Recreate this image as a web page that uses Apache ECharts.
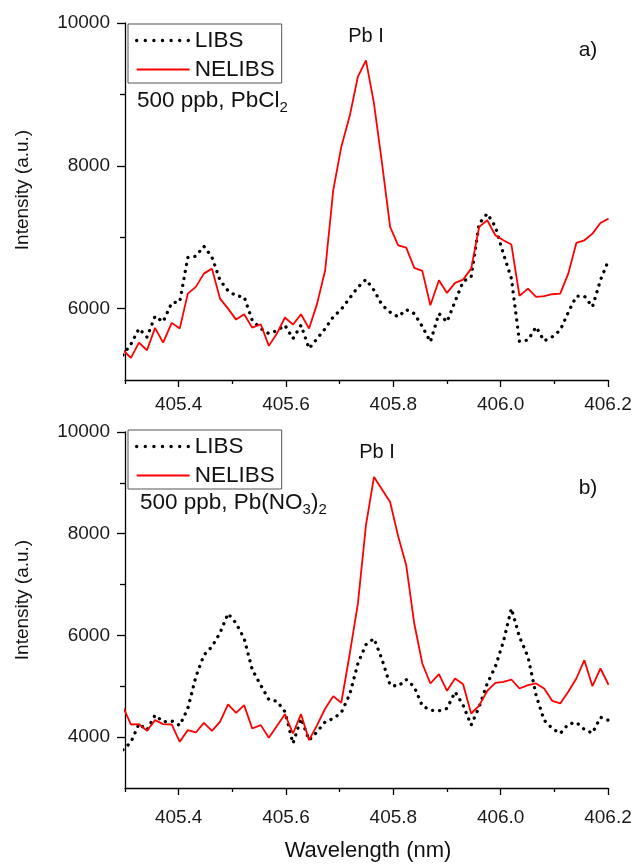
<!DOCTYPE html>
<html>
<head>
<meta charset="utf-8">
<script src="https://cdn.jsdelivr.net/npm/echarts@6/dist/echarts.min.js"></script>
<style>
html,body{margin:0;padding:0;background:#fff;}
#chart{width:635px;height:864px;}
</style>
</head>
<body>
<div id="chart"></div>
<script>
// Wavelength (nm) of each sample
const wavelength = [405.296,405.311,405.326,405.341,405.356,405.371,405.387,405.402,405.417,405.432,
405.447,405.462,405.477,405.492,405.507,405.522,405.537,405.553,405.568,405.583,
405.598,405.613,405.628,405.643,405.658,405.673,405.688,405.703,405.719,405.734,
405.749,405.764,405.779,405.794,405.809,405.824,405.839,405.854,405.869,405.885,
405.900,405.915,405.930,405.945,405.960,405.975,405.990,406.005,406.020,406.035,
406.051,406.066,406.081,406.096,406.111,406.126,406.141,406.156,406.171,406.186,406.201];

// Panel a) 500 ppb, PbCl2
const libsA = [5350,5500,5720,5600,5893,5814,6080,6094,6715,6734,
6873,6720,6397,6250,6180,6164,5837,5720,5650,5690,
5767,5580,5767,5440,5580,5720,5884,5990,6150,6300,
6407,6257,6050,5950,5884,5986,5930,5750,5534,5930,
5814,6100,6380,6444,7190,7330,7150,6770,6420,5540,
5560,5744,5548,5604,5697,5950,6174,6174,6024,6400,6677];
const nelibsA = [5420,5310,5524,5417,5730,5524,5800,5720,6210,6304,
6490,6560,6140,6000,5846,5921,5734,5781,5478,5650,
5875,5776,5921,5720,6070,6537,7657,8264,8707,9250,
9477,8870,8031,7144,6887,6855,6570,6528,6047,6397,
6220,6360,6406,6560,7144,7237,7027,6957,6897,6178,
6280,6164,6174,6201,6210,6490,6920,6957,7050,7200,7260];

// Panel b) 500 ppb, Pb(NO3)2
const libsB = [3750,3900,4260,4138,4433,4300,4320,4230,4563,5186,
5612,5780,6050,6430,6240,5939,5330,5020,4740,4707,
4500,3876,4367,3941,4105,4300,4367,4480,4850,5450,
5820,5939,5526,5022,5002,5133,4989,4616,4531,4518,
4563,4891,4629,4236,4596,5055,5382,5874,6530,5972,
5579,4825,4334,4170,4072,4256,4290,4150,4080,4390,4330];
const nelibsB = [4600,4249,4256,4125,4334,4256,4249,3908,4138,4092,
4282,4125,4302,4642,4478,4629,4170,4236,3987,4217,
4452,4072,4452,3941,4236,4563,4806,4676,5650,6629,
8167,9116,8870,8625,7950,7380,6234,5448,5055,5238,
4911,5153,5042,4465,4620,4911,5068,5087,5133,4956,
5022,5055,4956,4714,4662,4891,5153,5513,5002,5350,5030];

// Tick labels
const xMajor = [405.4,405.6,405.8,406.0,406.2];
const xMinor = [405.3,405.5,405.7,405.9,406.1];
const yMajorA = [6000,8000,10000];
const yMinorA = [7000,9000];
const yMajorB = [4000,6000,8000,10000];
const yMinorB = [5000,7000,9000];

const FONT = 'Liberation Sans, Arial, sans-serif';
const chart = echarts.init(document.getElementById('chart'), null, {renderer:'canvas'});

function pairs(vals){ return wavelength.map((w,i)=>[w, vals[i]]); }

const axisLine = {show:true, onZero:false, lineStyle:{color:'#000', width:1.3}};

function xMain(g, margin){
  return {type:'value', gridIndex:g, position:'bottom', min:405.3, max:406.2,
    axisLine:axisLine, splitLine:{show:false},
    axisTick:{show:true, length:7, customValues:xMajor, lineStyle:{color:'#000', width:1.3}},
    axisLabel:{show:true, customValues:xMajor, margin:margin, fontSize:19, color:'#1a1a1a', fontFamily:FONT,
      formatter:v=>Number(v).toFixed(1)}};
}
function xMin(g){
  return {type:'value', gridIndex:g, position:'bottom', min:405.3, max:406.2,
    axisLine:{show:false}, splitLine:{show:false}, axisLabel:{show:false},
    axisTick:{show:true, length:4, customValues:xMinor, lineStyle:{color:'#000', width:1.3}}};
}
function yMain(g, mn, major){
  return {type:'value', gridIndex:g, position:'left', min:mn, max:10000,
    axisLine:axisLine, splitLine:{show:false},
    axisTick:{show:true, length:8, customValues:major, lineStyle:{color:'#000', width:1.3}},
    axisLabel:{show:true, customValues:major, margin:15, fontSize:19, color:'#1a1a1a', fontFamily:FONT,
      formatter:v=>String(Math.round(v))}};
}
function yMin(g, mn, minor){
  return {type:'value', gridIndex:g, position:'left', min:mn, max:10000,
    axisLine:{show:false}, splitLine:{show:false}, axisLabel:{show:false},
    axisTick:{show:true, length:5, customValues:minor, lineStyle:{color:'#000', width:1.3}}};
}

const libsStyle = {color:'#000', width:3.3, type:[0.1,7], cap:'round'};
const nelStyle = {color:'#ff0000', width:1.8};

function legendAt(top){
  return {orient:'vertical', left:128, top:top,
    data:[{name:'LIBS', lineStyle:{color:'#000', width:3.3, type:[0.1,8.5], cap:'round'}}, {name:'NELIBS'}],
    borderColor:'#555', borderWidth:1, padding:[5,7,2,7], itemGap:6,
    itemWidth:53, itemHeight:14, itemStyle:{opacity:0},
    textStyle:{fontSize:22.5, color:'#111', fontFamily:FONT, lineHeight:22}};
}

function txt(x, y, text, size, extra, align){
  return Object.assign({type:'text', x:x, y:y, silent:true,
    style:{text:text, fill:'#111', fontSize:size, fontFamily:FONT,
      align:align||'center', verticalAlign:'middle'}}, extra||{});
}

// text with subscripts: parts = [[text, isSub], ...]
const measureCtx = document.createElement('canvas').getContext('2d');
function subText(x, y, parts, size, subSize){
  const out = [];
  let cx = x;
  parts.forEach(p=>{
    const s = p[1] ? subSize : size;
    measureCtx.font = s + 'px ' + FONT;
    out.push(txt(cx, p[1] ? y + 7 : y, p[0], s, null, 'left'));
    cx += measureCtx.measureText(p[0]).width;
  });
  return out;
}

chart.setOption({
  animation:false,
  backgroundColor:'#fff',
  grid:[
    {left:125, top:23, width:483, height:357},
    {left:125, top:432, width:483, height:356}
  ],
  xAxis:[xMain(0,15), xMin(0), xMain(1,20), xMin(1)],
  yAxis:[yMain(0,5000,yMajorA), yMin(0,5000,yMinorA), yMain(1,3000,yMajorB), yMin(1,3000,yMinorB)],
  legend:[legendAt(24), legendAt(430)],
  series:[
    {name:'LIBS', type:'line', xAxisIndex:0, yAxisIndex:0, data:pairs(libsA), showSymbol:false, symbol:'none', lineStyle:libsStyle, itemStyle:{color:'#000'}},
    {name:'NELIBS', type:'line', xAxisIndex:0, yAxisIndex:0, data:pairs(nelibsA), showSymbol:false, symbol:'none', lineStyle:nelStyle, itemStyle:{color:'#ff0000'}},
    {name:'LIBS', type:'line', xAxisIndex:2, yAxisIndex:2, data:pairs(libsB), showSymbol:false, symbol:'none', lineStyle:libsStyle, itemStyle:{color:'#000'}},
    {name:'NELIBS', type:'line', xAxisIndex:2, yAxisIndex:2, data:pairs(nelibsB), showSymbol:false, symbol:'none', lineStyle:nelStyle, itemStyle:{color:'#ff0000'}}
  ],
  graphic:[
    txt(366, 36, 'Pb I', 20),
    txt(377, 452, 'Pb I', 20),
    txt(588, 50, 'a)', 21),
    txt(588, 488, 'b)', 21),
    txt(23, 190, 'Intensity (a.u.)', 19, {rotation:Math.PI/2}),
    txt(23, 600, 'Intensity (a.u.)', 19, {rotation:Math.PI/2}),
    txt(368, 851, 'Wavelength (nm)', 22)
  ].concat(
    subText(137, 101, [['500 ppb, PbCl',false],['2',true]], 22.5, 15),
    subText(140, 503, [['500 ppb, Pb(NO',false],['3',true],[')',false],['2',true]], 22.5, 15)
  )
});
</script>
</body>
</html>
